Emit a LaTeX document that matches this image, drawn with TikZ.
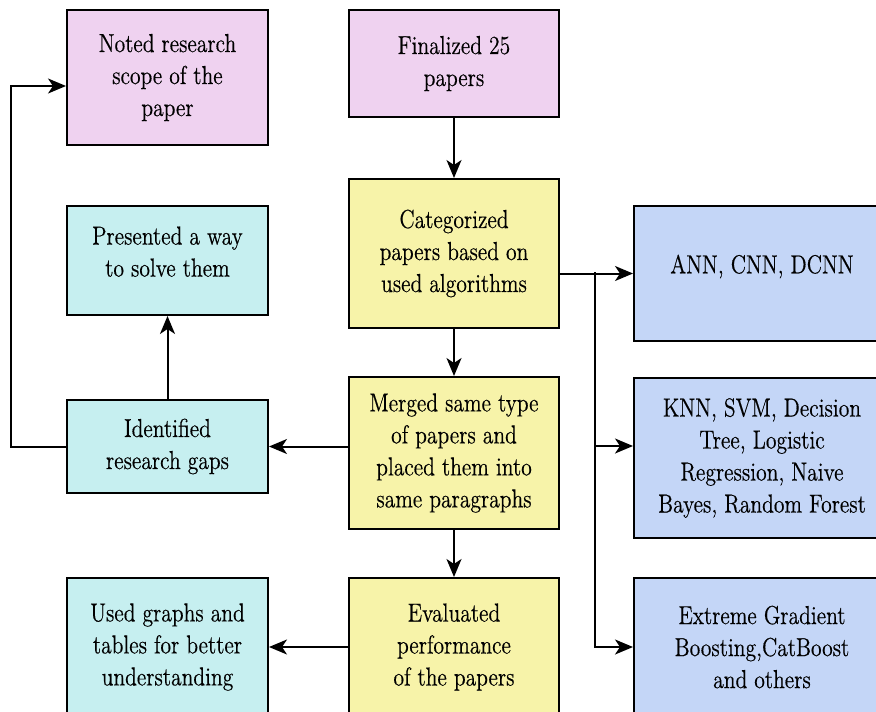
\documentclass[tikz,border=0pt]{standalone}
\usepackage{fontspec}
\setmainfont{Latin Modern Roman}[FakeStretch=0.83,FakeBold=0.4]
\usetikzlibrary{arrows.meta}
\definecolor{scopepink}{RGB}{239,210,240}
\definecolor{stepyellow}{RGB}{247,243,169}
\definecolor{gapcyan}{RGB}{198,239,240}
\definecolor{algoblue}{RGB}{196,214,247}

\begin{document}
\begin{tikzpicture}[x=0.5pt,y=-0.5pt]
	\tikzstyle{stage}=[draw,rectangle,line width=1pt,align=center,inner sep=2pt,anchor=north west,font=\fontsize{13}{16}\selectfont]
	\tikzstyle{flow}=[line width=1pt,-{Stealth[length=9pt,width=7.5pt,inset=2.5pt]}]
	
	\useasboundingbox (0,0) rectangle (876,711);
	\clip (0,0) rectangle (876,711);
	
	% left column
	\node[stage,fill=scopepink,minimum width=100.5pt,minimum height=67.5pt] (noted) at (66,9) {Noted research\\scope of the\\paper};
	\node[stage,fill=gapcyan,minimum width=100.5pt,minimum height=54.5pt,text depth=9pt] (present) at (66,205) {Presented a way\\to solve them};
	\node[stage,fill=gapcyan,minimum width=100.5pt,minimum height=46.5pt] (ident) at (66,399) {Identified\\research gaps};
	\node[stage,fill=gapcyan,minimum width=100.5pt,minimum height=69pt] (used) at (66,577) {Used graphs and\\tables for better\\understanding};
	
	% middle column
	\node[stage,fill=scopepink,minimum width=105pt,minimum height=53.5pt] (final) at (348,9) {Finalized 25\\papers};
	\node[stage,fill=stepyellow,minimum width=105pt,minimum height=74.5pt] (categ) at (348,178) {Categorized\\papers based on\\used algorithms};
	\node[stage,fill=stepyellow,minimum width=105pt,minimum height=76pt] (merged) at (348,376) {Merged same type\\of papers and\\placed them into\\same paragraphs};
	\node[stage,fill=stepyellow,minimum width=105pt,minimum height=69pt] (evalu) at (348,577) {Evaluated\\performance\\of the papers};
	
	% right column
	\node[stage,fill=algoblue,minimum width=128pt,minimum height=67.5pt,text depth=9.5pt] (ann) at (633,205) {ANN, CNN, DCNN};
	\node[stage,fill=algoblue,minimum width=128pt,minimum height=80pt] (knn) at (633,377) {KNN, SVM, Decision\\Tree, Logistic\\Regression, Naive\\Bayes, Random Forest};
	\node[stage,fill=algoblue,minimum width=128pt,minimum height=69pt] (extreme) at (633,577) {Extreme Gradient\\Boosting,CatBoost\\and others};
	
	\coordinate (split) at (595,272);
	\coordinate (loopx) at (11,0);
	
	\draw[flow] (final) -- (categ);
	\draw[flow] (categ) -- (merged);
	\draw[flow] (merged) -- (evalu);
	
	\draw[flow] (categ.east |- ann.west) -- (ann.west);
	\draw[flow] (split) |- (extreme.west);
	\draw[flow] (split) |- ([yshift=6pt]knn.west);
	
	\draw[flow] (merged.west |- ident.east) -- (ident.east);
	\draw[flow] (ident) -- (present);
	\draw[flow] (ident.west) -- (ident.west -| loopx) |- ([yshift=-4.25pt]noted.west);
	\draw[flow] (evalu.west |- used.east) -- (used.east);
	
\end{tikzpicture}
\end{document}
